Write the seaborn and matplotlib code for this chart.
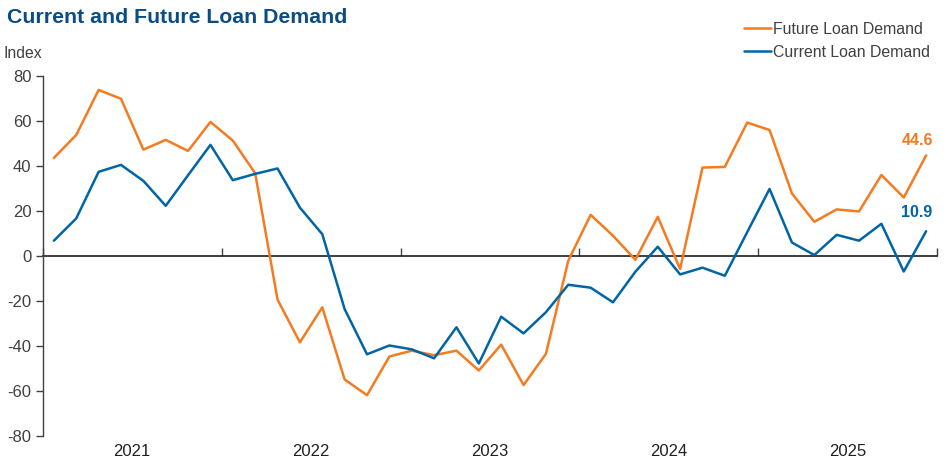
import matplotlib
matplotlib.use("Agg")
import matplotlib.pyplot as plt
import seaborn as sns
import pandas as pd
import numpy as np
from matplotlib.lines import Line2D

years = ["2021", "2022", "2023", "2024", "2025"]
per_year = 8

future = [43.5, 53.7, 73.7, 69.8, 47.2, 51.5, 46.6, 59.5,
          51.2, 36.7, -19.5, -38.5, -22.9, -55.0, -62.0, -44.8,
          -42.2, -44.2, -42.2, -51.0, -39.5, -57.5, -43.6, -2.2,
          18.2, 8.9, -1.8, 17.3, -5.9, 39.2, 39.5, 59.2,
          55.9, 27.7, 15.1, 20.6, 19.7, 35.9, 25.9, 44.6]
current = [6.7, 16.6, 37.3, 40.4, 33.3, 22.2, 35.8, 49.3,
           33.6, 36.4, 38.8, 21.4, 9.6, -23.7, -43.8, -39.9,
           -41.6, -45.6, -31.8, -47.9, -27.1, -34.5, -25.1, -12.9,
           -14.2, -20.7, -7.1, 4.0, -8.3, -5.3, -8.9, 10.5,
           29.7, 5.9, 0.3, 9.3, 6.7, 14.2, -7.0, 10.9]

series_names = ["Future Loan Demand", "Current Loan Demand"]
colors = {"Future Loan Demand": "#F47B20", "Current Loan Demand": "#0065A4"}

n = len(future)
idx = np.arange(n)
df = pd.DataFrame({
    "t": np.concatenate([idx, idx]),
    "value": future + current,
    "series": [series_names[0]] * n + [series_names[1]] * n,
})

sns.set_theme(style="white")
plt.rcParams["font.family"] = ["Liberation Sans", "DejaVu Sans"]
plt.rcParams["axes.unicode_minus"] = False

fig = plt.figure(figsize=(9.51, 4.65), dpi=100)
ax = fig.add_axes([0.0449, 0.063, 0.9407, 0.774])

sns.lineplot(data=df, x="t", y="value", hue="series", hue_order=series_names,
             palette=colors, linewidth=1.8, ax=ax, legend=False)

ax.set_xlim(-0.5, n - 0.5)
ax.set_ylim(-80, 80)
ax.set_yticks(np.arange(-80, 81, 20))
ax.set_xlabel("")
ax.set_ylabel("")

grey = "#404040"
for s in ["top", "right", "bottom"]:
    ax.spines[s].set_visible(False)
ax.spines["left"].set_color(grey)
ax.spines["left"].set_linewidth(1.0)

ax.tick_params(axis="y", direction="out", length=5, width=1, color=grey,
               labelcolor=grey, labelsize=12, pad=3, left=True)
centers = [i * per_year + (per_year - 1) / 2 for i in range(len(years))]
ax.set_xticks(centers)
ax.set_xticklabels(years)
ax.tick_params(axis="x", length=0, labelsize=12, labelcolor="#202020", pad=6)

# zero line with year-boundary ticks
sec = ax.secondary_xaxis(0.5)
sec.set_xticks([i * per_year - 0.5 for i in range(len(years) + 1)])
sec.set_xticklabels([])
sec.tick_params(direction="out", length=6, width=1, color=grey)
sec.spines["bottom"].set_color(grey)
sec.spines["bottom"].set_linewidth(1.0)

# end labels
ax.annotate(f"{future[-1]:.1f}", xy=(n - 1, future[-1]), xytext=(-9, 15),
            textcoords="offset pixels", ha="center", va="center",
            fontsize=11.5, fontweight="bold", color=colors[series_names[0]])
ax.annotate(f"{current[-1]:.1f}", xy=(n - 1, current[-1]), xytext=(-9, 19),
            textcoords="offset pixels", ha="center", va="center",
            fontsize=11.5, fontweight="bold", color=colors[series_names[1]])

handles = [Line2D([0], [0], color=colors[s], lw=1.8) for s in series_names]
leg = ax.legend(handles, series_names, loc="upper right",
                bbox_to_anchor=(0.999, 1.167), frameon=False, fontsize=11.4,
                handlelength=1.7, handletextpad=0.15, labelspacing=0.5,
                borderaxespad=0)
for t in leg.get_texts():
    t.set_color(grey)

fig.text(0.007, 0.963, "Current and Future Loan Demand", fontsize=15.3,
         fontweight="bold", color="#0B4C82", ha="left", va="center")
fig.text(0.004, 0.886, "Index", fontsize=11.3, color=grey, ha="left", va="center")

fig.savefig("out.png", dpi=100)
